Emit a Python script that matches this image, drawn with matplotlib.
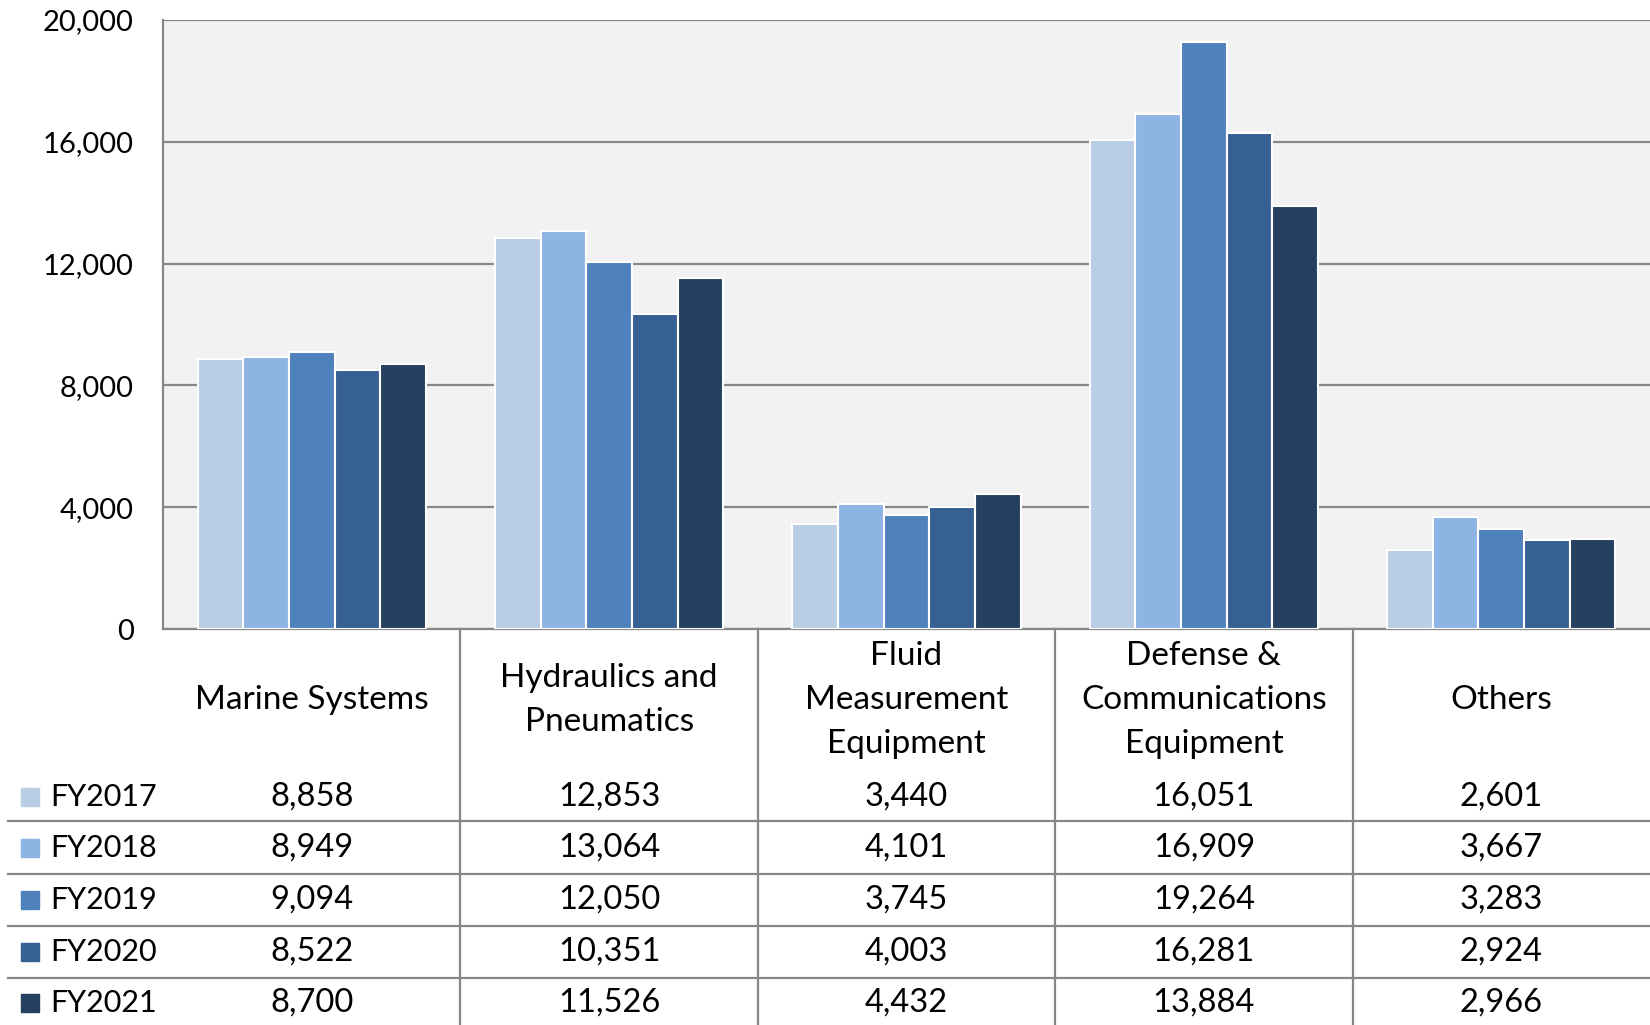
import numpy as np
import matplotlib.pyplot as plt
from matplotlib.lines import Line2D
from matplotlib.patches import Rectangle

plt.rcParams['font.family'] = ['Lato', 'DejaVu Sans']

categories = ["Marine Systems", "Hydraulics and\nPneumatics", "Fluid\nMeasurement\nEquipment",
              "Defense &\nCommunications\nEquipment", "Others"]
years = ["FY2017", "FY2018", "FY2019", "FY2020", "FY2021"]
fy2017 = [8858, 12853, 3440, 16051, 2601]
fy2018 = [8949, 13064, 4101, 16909, 3667]
fy2019 = [9094, 12050, 3745, 19264, 3283]
fy2020 = [8522, 10351, 4003, 16281, 2924]
fy2021 = [8700, 11526, 4432, 13884, 2966]
series = [fy2017, fy2018, fy2019, fy2020, fy2021]
colors = ["#B9CDE5", "#8EB4E3", "#4F81BD", "#366092", "#254061"]
yticks = [0, 4000, 8000, 12000, 16000, 20000]

W, H = 1650, 1025
fig = plt.figure(figsize=(W / 100, H / 100), dpi=100)
ax = fig.add_axes([163 / W, 1 - 629 / H, (W - 163) / W, (629 - 20) / H])
ax.set_facecolor("#F2F2F2")

grey = "#878787"
x = np.arange(len(categories))
bw = 0.1535
for i, vals in enumerate(series):
    ax.bar(x + (i - 2) * bw, vals, width=bw, color=colors[i], edgecolor="white",
           linewidth=1.5, zorder=3)

ax.set_xlim(-0.5, len(categories) - 0.5)
ax.set_ylim(0, 20000)
ax.set_yticks(yticks)
ax.set_yticklabels([f"{v:,}" for v in yticks], fontsize=21)
ax.tick_params(axis="y", length=0, pad=21)
ax.set_xticks([])
ax.yaxis.grid(True, color=grey, linewidth=1.6, zorder=0)
ax.set_axisbelow(True)
for s in ["top", "right"]:
    ax.spines[s].set_visible(False)
for s in ["left", "bottom"]:
    ax.spines[s].set_color(grey)
    ax.spines[s].set_linewidth(1.6)

# data table below the axes, in pixel coordinates
def fx(px):
    return px / W

def fy(py):
    return 1 - py / H

to_px = lambda xv: ax.transData.transform((xv, 0))[0]
centers = [to_px(c) for c in x]
bounds = [to_px(c + 0.5) for c in x[:-1]]

for b in bounds:
    fig.add_artist(Line2D([fx(b), fx(b)], [fy(629), fy(H)], color=grey, lw=1.6))

row_y = [797, 848, 900, 952, 1003]
for ly in [821, 874, 926, 978]:
    fig.add_artist(Line2D([fx(8), 1], [fy(ly), fy(ly)], color=grey, lw=1.6))

for c, cat in zip(centers, categories):
    fig.text(fx(c), fy(700), cat, ha="center", va="center", fontsize=24,
             linespacing=1.6)

for r, (yr, vals) in enumerate(zip(years, series)):
    fig.add_artist(Rectangle((fx(21), fy(row_y[r] + 9)), 18 / W, 18 / H,
                             color=colors[r], transform=fig.transFigure))
    fig.text(fx(50), fy(row_y[r]), yr, ha="left", va="center", fontsize=22)
    for c, v in zip(centers, vals):
        fig.text(fx(c), fy(row_y[r]), f"{v:,}", ha="center", va="center", fontsize=23.5)

fig.savefig("out.png", dpi=100)
